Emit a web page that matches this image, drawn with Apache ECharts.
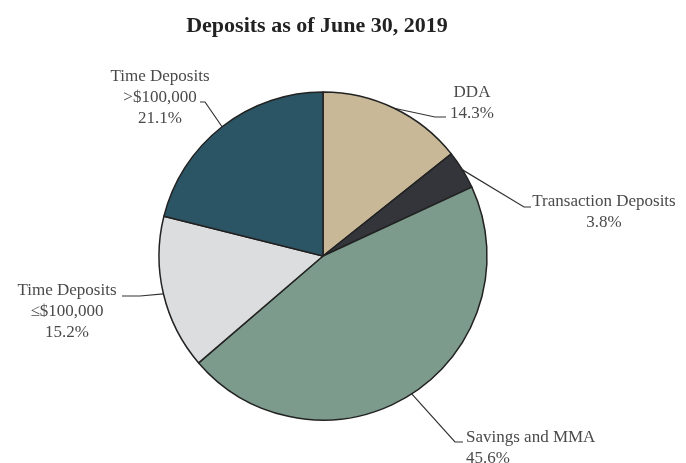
<!DOCTYPE html>
<html><head><meta charset="utf-8">
<script src="https://cdn.jsdelivr.net/npm/echarts@6/dist/echarts.min.js"></script>
<style>html,body{margin:0;padding:0;background:#fff}#c{width:686px;height:463px}</style>
</head><body><div id="c"></div>
<script>
const categories = ['DDA', 'Transaction Deposits', 'Savings and MMA', 'Time Deposits\n≤$100,000', 'Time Deposits\n>$100,000'];
const values = [14.3, 3.8, 45.6, 15.2, 21.1];
const colors = ['#c8b898', '#33353b', '#7c9b8d', '#dcdddf', '#2b5565'];
const title = 'Deposits as of June 30, 2019';

// label placement (layout only): text anchor, elbow, line end
const labelPos = [
  {x: 472, y: 103, align: 'center', elbow: [435, 117], end: [446, 117]},
  {x: 604, y: 212, align: 'center', elbow: [524, 207], end: [531, 207]},
  {x: 466, y: 448, align: 'left', elbow: [455, 442], end: [463, 442]},
  {x: 67, y: 312, align: 'center', elbow: [140, 296], end: [122, 296]},
  {x: 160, y: 98, align: 'center', elbow: [205, 102], end: [200, 102]}
];

const chart = echarts.init(document.getElementById('c'), null, {renderer: 'canvas'});
chart.setOption({
  backgroundColor: '#fff',
  animation: false,
  title: {
    text: title, left: 312, top: 10, textAlign: 'center',
    textStyle: {fontFamily: 'Liberation Serif', fontWeight: 'bold', fontSize: 22, color: '#222'}
  },
  series: [{
    type: 'pie',
    center: [323, 256],
    radius: 164,
    startAngle: 90,
    clockwise: true,
    data: categories.map((c, i) => ({name: c, value: values[i], itemStyle: {color: colors[i]}})),
    itemStyle: {borderColor: '#222', borderWidth: 1.5},
    label: {
      show: true, position: 'outside',
      formatter: p => p.name + '\n' + p.value.toFixed(1) + '%',
      fontFamily: 'Liberation Serif', fontSize: 17, color: '#4a4a4a', lineHeight: 21, align: 'center'
    },
    labelLine: {show: true, length: 10, length2: 10, lineStyle: {color: '#333', width: 1.2}},
    labelLayout: function (params) {
      const lp = labelPos[params.dataIndex];
      const p0 = params.labelLinePoints ? params.labelLinePoints[0] : lp.elbow;
      return {
        x: lp.x, y: lp.y, align: lp.align, verticalAlign: 'middle',
        labelLinePoints: [p0, lp.elbow, lp.end]
      };
    },
    emphasis: {disabled: true}
  }]
});
</script></body></html>
